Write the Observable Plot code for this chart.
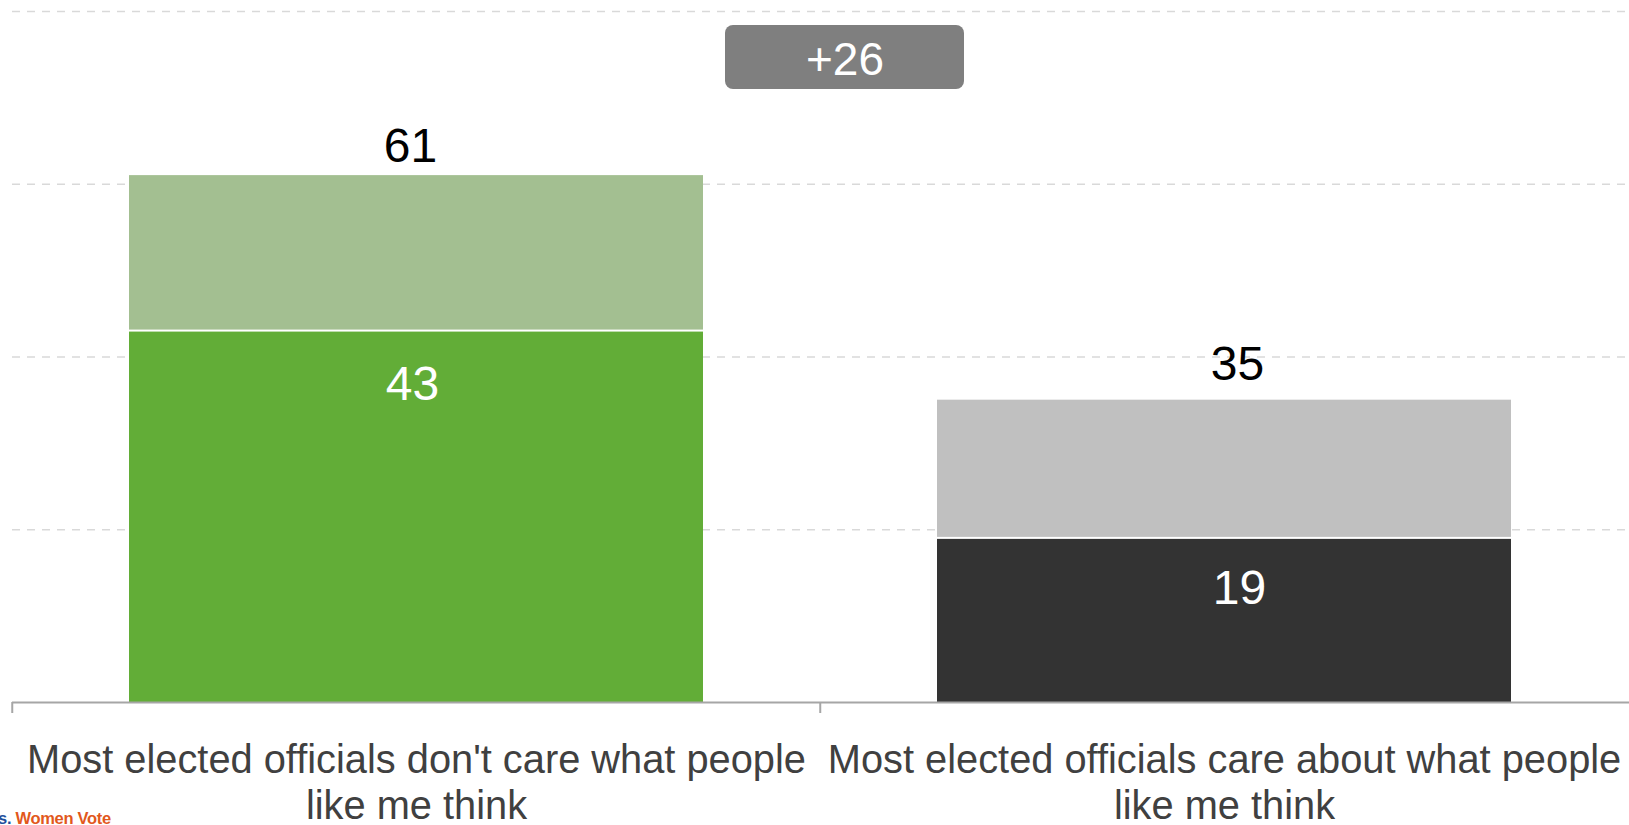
<!DOCTYPE html>
<html>
<head>
<meta charset="utf-8">
<script src="https://cdn.jsdelivr.net/npm/d3@7"></script>
<script src="https://cdn.jsdelivr.net/npm/@observablehq/plot@0.6"></script>
<style>
  html, body { margin: 0; padding: 0; background: #ffffff; }
  #wrap { position: relative; width: 1629px; height: 825px; overflow: hidden; }
  #logo { position: absolute; left: -2px; top: 809px; font-family: "Liberation Sans", Arial, sans-serif;
          font-weight: bold; font-size: 16.5px; line-height: 18px; white-space: nowrap; letter-spacing: -0.3px; }
  #logo .a { color: #1f4f9c; }
  #logo .b { color: #e2581c; }
</style>
</head>
<body>
<div id="wrap"><div id="logo"><span class="a">s.</span> <span class="b">Women Vote</span></div></div>
<script>
// ---- data ----
const categories = [
  "Most elected officials don't care what people like me think",
  "Most elected officials care about what people like me think"
];
const tickLabels = [
  "Most elected officials don't care what people\nlike me think",
  "Most elected officials care about what people\nlike me think"
];
const totalValues = [61, 35];   // total (strongly + somewhat)
const strongValues = [43, 19];  // strongly
const gridValues = [20, 40, 60, 80];

const colorsStrong = ["#62ad37", "#333333"];
const colorsSoft = ["#a3bf91", "#c0c0c0"];

const rows = categories.map((c, i) => ({
  category: c, total: totalValues[i], strong: strongValues[i], idx: i
}));
const diff = totalValues[0] - totalValues[1];

const font = "'Liberation Sans', Arial, Helvetica, sans-serif";
const totalDx = [-6, 13], totalDy = [-14, -20];
const strongDx = [-4, 15], strongDy = [69, 66];

const marks = [
  Plot.ruleY(gridValues, {stroke: "#d9d9d9", strokeWidth: 1.3, strokeDasharray: "8,7"}),
  // lower segment (strongly)
  Plot.barY(rows, {x: "category", y1: 0, y2: "strong", fill: (d) => colorsStrong[d.idx], insetTop: 1}),
  // upper segment (somewhat)
  Plot.barY(rows, {x: "category", y1: "strong", y2: "total", fill: (d) => colorsSoft[d.idx], insetBottom: 1}),
  // baseline
  Plot.ruleY([0], {stroke: "#a6a6a6", strokeWidth: 2}),
  // ticks at band boundaries
  Plot.ruleX(categories, {x: (d) => d, dx: -404.25, insetTop: 691, insetBottom: -11, stroke: "#a6a6a6", strokeWidth: 2}),
  // category labels
  Plot.text(categories, {x: (d) => d, text: (d) => tickLabels[categories.indexOf(d)], frameAnchor: "bottom",
    lineAnchor: "top", dy: 37, fontSize: 39.8, lineHeight: 1.17, fill: "#404040"}),
  // badge
  Plot.rect([diff], {fill: "#7f7f7f", rx: 8, insetLeft: 713, insetRight: 665, insetTop: 14, insetBottom: 613}),
  Plot.text([diff], {text: (d) => "+" + d, frameAnchor: "top", lineAnchor: "bottom", dx: 24, dy: 63, fontSize: 46, fill: "white"})
];
rows.forEach((r, i) => {
  marks.push(Plot.text([r], {x: "category", y: "total", text: "total", lineAnchor: "bottom", dy: totalDy[i], dx: totalDx[i], fontSize: 48, fill: "#000000"}));
  marks.push(Plot.text([r], {x: "category", y: "strong", text: "strong", lineAnchor: "bottom", dy: strongDy[i], dx: strongDx[i], fontSize: 48, fill: "#ffffff"}));
});

const chart = Plot.plot({
  width: 1629,
  height: 825,
  marginTop: 11,
  marginBottom: 123,
  marginLeft: 12,
  marginRight: 0,
  style: {fontFamily: font, background: "white", overflow: "visible"},
  x: {domain: categories, paddingInner: 0.289, paddingOuter: 0.1445, axis: null, label: null},
  y: {domain: [0, 80], axis: null, label: null},
  marks
});
document.getElementById("wrap").insertBefore(chart, document.getElementById("logo"));
</script>
</body>
</html>
